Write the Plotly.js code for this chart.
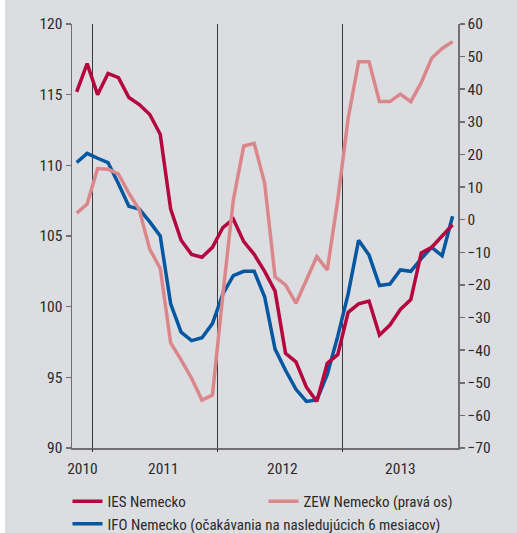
<!DOCTYPE html>
<html>
<head>
<meta charset="utf-8">
<script src="https://cdn.plot.ly/plotly-3.0.1.min.js"></script>
<style>
  html, body { margin: 0; padding: 0; background: #ffffff; }
  #chart { position: absolute; left: 5px; top: 0; width: 512px; height: 533px; }
</style>
</head>
<body>
<div id="chart"></div>
<script>
// Months: Nov 2010 .. Nov 2013 (index 0..36)
const monthIndex = Array.from({length: 37}, (_, i) => i);

const iesNemecko = [115.2, 117.2, 115.0, 116.5, 116.2, 114.8, 114.3, 113.6, 112.2, 106.9,
  104.7, 103.7, 103.5, 104.2, 105.6, 106.2, 104.6, 103.7, 102.5, 101.1,
  96.7, 96.1, 94.3, 93.3, 96.0, 96.6, 99.6, 100.2, 100.4, 98.0,
  98.7, 99.8, 100.5, 103.8, 104.2, 105.0, 105.8];

const ifoNemecko = [110.2, 110.85, 110.5, 110.2, 108.7, 107.1, 106.9, 106.0, 105.0, 100.2,
  98.2, 97.6, 97.8, 98.8, 100.9, 102.2, 102.5, 102.5, 100.7, 97.0,
  95.5, 94.15, 93.3, 93.4, 95.2, 97.9, 100.9, 104.7, 103.65, 101.5,
  101.6, 102.6, 102.5, 103.4, 104.2, 103.6, 106.4];

const zewNemecko = [2.0, 4.8, 15.7, 15.5, 14.0, 8.1, 3.0, -9.1, -14.9, -37.8,
  -43.0, -48.6, -55.3, -53.8, -23.0, 6.0, 22.6, 23.4, 11.2, -17.5,
  -20.0, -25.6, -18.5, -11.3, -15.4, 6.0, 31.1, 48.4, 48.4, 36.2,
  36.2, 38.5, 36.2, 42.0, 49.5, 52.5, 54.6];

// Year boundaries (between Dec and Jan) and year label positions
const yearBoundaries = [1.5, 13.5, 25.5];
const yearLabelPos = [0.55, 8.3, 19.7, 31.0];
const yearLabels = ['2010', '2011', '2012', '2013'];

const leftTicks = [90, 95, 100, 105, 110, 115, 120];
const rightTicks = [-70, -60, -50, -40, -30, -20, -10, 0, 10, 20, 30, 40, 50, 60];

const names = ['IES Nemecko', 'ZEW Nemecko (pravá os)', 'IFO Nemecko (očakávania na nasledujúcich 6 mesiacov)'];
const colors = {ies: '#b4063f', zew: '#da878c', ifo: '#0457a0'};

const FONT = '"Roboto Condensed", "Liberation Sans", Arial, sans-serif';
const FS = 15.5;
const LFS = 15;
const TXT = '#2a2a2a';
const BG = '#dcdde0';
const AX = '#6f6f6f';

const traces = [
  {x: [monthIndex[0]], y: [leftTicks[0]], xaxis: 'x2', yaxis: 'y',
   mode: 'markers', marker: {opacity: 0}, showlegend: false, hoverinfo: 'skip'},
  {x: monthIndex, y: zewNemecko, name: names[1], type: 'scatter', mode: 'lines',
   yaxis: 'y2', line: {color: colors.zew, width: 3.5}, legend: 'legend2'},
  {x: monthIndex, y: ifoNemecko, name: names[2], type: 'scatter', mode: 'lines',
   line: {color: colors.ifo, width: 3.5}, legend: 'legend', legendrank: 2},
  {x: monthIndex, y: iesNemecko, name: names[0], type: 'scatter', mode: 'lines',
   line: {color: colors.ies, width: 3.5}, legend: 'legend', legendrank: 1}
];

const legendCommon = {
  orientation: 'v', yanchor: 'top', xanchor: 'left', y: -0.0875,
  bgcolor: 'rgba(0,0,0,0)', font: {family: FONT, size: LFS, color: TXT},
  traceorder: 'normal', tracegroupgap: 0
};

const layout = {
  width: 512, height: 533,
  margin: {l: 67, r: 59, t: 24, b: 85, autoexpand: false},
  paper_bgcolor: BG, plot_bgcolor: BG,
  font: {family: FONT, size: FS, color: TXT},
  showlegend: true,
  legend: Object.assign({}, legendCommon, {x: -0.0117}),
  legend2: Object.assign({}, legendCommon, {x: 0.496}),
  xaxis: {
    range: [-0.45, 36.52], showgrid: false, zeroline: false,
    tickmode: 'array', tickvals: yearLabelPos, ticktext: yearLabels,
    ticks: '', showline: true, linecolor: AX, linewidth: 1.5, ticklabelstandoff: 6,
    tickfont: {family: FONT, size: FS, color: TXT}
  },
  xaxis2: {
    overlaying: 'x', matches: 'x', anchor: 'y', side: 'bottom',
    tickmode: 'array', tickvals: yearBoundaries, showticklabels: false,
    ticks: 'outside', ticklen: 3, tickcolor: '#333', tickwidth: 1,
    showgrid: true, gridcolor: '#3a3a3a', gridwidth: 1, zeroline: false, showline: false
  },
  yaxis: {
    range: [90, 120], tickmode: 'array', tickvals: leftTicks,
    ticks: 'outside', ticklen: 5, tickcolor: AX, tickwidth: 1.5,
    showline: true, linecolor: AX, linewidth: 1.5, showgrid: false, zeroline: false,
    tickfont: {family: FONT, size: FS, color: TXT}
  },
  yaxis2: {
    range: [-70, 60], overlaying: 'y', side: 'right', anchor: 'x',
    tickmode: 'array', tickvals: rightTicks,
    ticks: 'outside', ticklen: 5, tickcolor: AX, tickwidth: 1.5,
    showline: true, linecolor: AX, linewidth: 1.5, showgrid: false, zeroline: false,
    tickfont: {family: FONT, size: FS, color: TXT}
  }
};

Plotly.newPlot('chart', traces, layout, {displayModeBar: false, staticPlot: true});
</script>
</body>
</html>
